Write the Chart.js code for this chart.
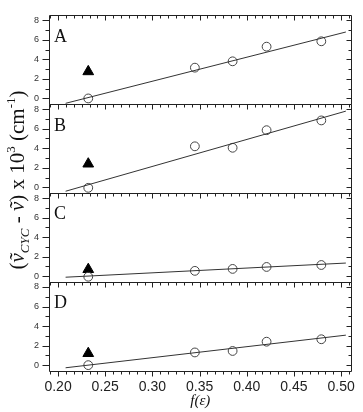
<!DOCTYPE html>
<html>
<head>
<meta charset="utf-8">
<script src="https://cdn.jsdelivr.net/npm/chart.js@4"></script>
<style>
  html, body { margin: 0; padding: 0; background: #fff; }
  #wrap { position: relative; width: 363px; height: 412px; }
</style>
</head>
<body>
<div id="wrap"><canvas id="chart" width="363" height="412"></canvas></div>
<script>
// f(eps) values of the solvents
const fEps = [0.232, 0.345, 0.385, 0.421, 0.479];
// shifts (x 10^3 cm-1), open circles
const shiftA = [0.0, 3.15, 3.8, 5.3, 5.85];
const shiftB = [-0.05, 4.2, 4.05, 5.85, 6.85];
const shiftC = [-0.05, 0.55, 0.75, 0.95, 1.15];
const shiftD = [0.0, 1.3, 1.45, 2.4, 2.65];
// filled triangles
const triX = 0.232;
const triA = 2.75;
const triB = 2.4;
const triC = 0.7;
const triD = 1.2;
// fitted lines (end points)
const fitX = [0.208, 0.505];
const fitA = [-0.5, 6.8];
const fitB = [-0.4, 7.8];
const fitC = [-0.1, 1.35];
const fitD = [-0.27, 3.07];
const panelNames = ['A', 'B', 'C', 'D'];
const yTicks = [0, 2, 4, 6, 8];

const panels = [
  { id: 'yA', shift: shiftA, tri: triA, fit: fitA },
  { id: 'yB', shift: shiftB, tri: triB, fit: fitB },
  { id: 'yC', shift: shiftC, tri: triC, fit: fitC },
  { id: 'yD', shift: shiftD, tri: triD, fit: fitD },
];

const datasets = [];
panels.forEach((p) => {
  datasets.push({
    label: p.id + ' fit',
    data: fitX.map((x, i) => ({ x, y: p.fit[i] })),
    yAxisID: p.id,
    showLine: true,
    borderColor: '#333',
    borderWidth: 1,
    pointRadius: 0,
  });
  datasets.push({
    label: p.id + ' circles',
    data: fEps.map((x, i) => ({ x, y: p.shift[i] })),
    yAxisID: p.id,
    pointStyle: 'circle',
    pointRadius: 4.4,
    borderColor: '#444',
    borderWidth: 1,
    backgroundColor: 'rgba(0,0,0,0)',
  });
  datasets.push({
    label: p.id + ' triangle',
    data: [{ x: triX, y: p.tri }],
    yAxisID: p.id,
    pointStyle: 'triangle',
    pointRadius: 6.2,
    borderColor: '#000',
    borderWidth: 1,
    backgroundColor: '#000',
  });
});

const scales = {
  x: {
    type: 'linear',
    min: 0.1904,
    max: 0.511,
    afterFit(scale) { scale.height = 41; },
    grid: { display: false, drawTicks: false },
    border: { display: false },
    ticks: {
      stepSize: 0.05,
      includeBounds: false,
      padding: 8,
      color: '#222',
      font: { family: 'Liberation Sans', size: 14 },
      callback: (v) => Number(v).toFixed(2),
    },
  },
};
panels.forEach((p, i) => {
  scales[p.id] = {
    type: 'linear',
    position: 'left',
    stack: 'panels',
    stackWeight: 1,
    weight: 4 - i,
    min: -0.6,
    max: 8.5,
    afterFit(scale) { scale.width = 49; },
    afterBuildTicks(scale) { scale.ticks = yTicks.map((v) => ({ value: v })); },
    grid: { display: false, drawTicks: false },
    border: { display: false },
    ticks: {
      autoSkip: false,
      padding: 10,
      color: '#333',
      font: { family: 'Liberation Sans', size: 9 },
    },
  };
});

const framePlugin = {
  id: 'frame',
  afterDraw(chart) {
    const { ctx, chartArea, scales: sc } = chart;
    const xs = sc.x;
    const L = Math.round(chartArea.left) + 0.5;
    const R = Math.round(chartArea.right) - 0.5;
    ctx.save();
    ctx.strokeStyle = '#222';
    ctx.lineWidth = 1;

    // x tick positions (majors from the scale, minors in between)
    const majors = xs.ticks.map((t) => t.value);
    const step = (majors[1] - majors[0]) / 6;
    const xMarks = [];
    for (let k = -6; k < 60; k++) {
      const v = majors[0] + k * step;
      if (v < xs.min || v > xs.max) continue;
      xMarks.push({ px: Math.round(xs.getPixelForValue(v)) + 0.5, major: ((k % 6) + 6) % 6 === 0 });
    }

    panels.forEach((p, idx) => {
      const s = sc[p.id];
      const T = Math.round(s.top) + 0.5;
      const B = Math.round(s.bottom) + 0.5;
      ctx.beginPath();
      ctx.rect(L, T, R - L, B - T);
      // top ticks, inward
      xMarks.forEach((m) => {
        ctx.moveTo(m.px, T);
        ctx.lineTo(m.px, T + (m.major ? 5 : 3));
      });
      // y ticks: left outward, right inward
      for (let v = Math.ceil(s.min); v <= Math.floor(s.max); v++) {
        const py = Math.round(s.getPixelForValue(v)) + 0.5;
        const major = v % 2 === 0;
        ctx.moveTo(L, py);
        ctx.lineTo(L - (major ? 7 : 4), py);
        ctx.moveTo(R, py);
        ctx.lineTo(R - (major ? 5 : 3), py);
      }
      if (idx === panels.length - 1) {
        xMarks.forEach((m) => {
          ctx.moveTo(m.px, B);
          ctx.lineTo(m.px, B + (m.major ? 5 : 3));
        });
      }
      ctx.stroke();

      // panel letter
      ctx.fillStyle = '#111';
      ctx.font = '18px "Liberation Serif"';
      ctx.textBaseline = 'middle';
      ctx.textAlign = 'left';
      ctx.fillText(panelNames[idx], chartArea.left + 5, s.getPixelForValue(6.3));
    });

    // x axis title
    ctx.fillStyle = '#111';
    ctx.font = 'italic 15px "Liberation Serif"';
    ctx.textAlign = 'center';
    ctx.textBaseline = 'middle';
    ctx.fillText('f(\u03B5)', (chartArea.left + chartArea.right) / 2, 401);

    // y axis title, rotated, with sub/superscripts
    const big = '21px "Liberation Serif"';
    const bigI = 'italic 21px "Liberation Serif"';
    const small = '13px "Liberation Serif"';
    const smallI = 'italic 13px "Liberation Serif"';
    const parts = [
      { t: '(', f: big, dy: 0 },
      { t: '\u1E7D', f: bigI, dy: 0 },
      { t: 'CYC', f: smallI, dy: 5 },
      { t: ' - ', f: big, dy: 0 },
      { t: '\u1E7D', f: bigI, dy: 0 },
      { t: ') x 10', f: big, dy: 0 },
      { t: '3', f: small, dy: -9 },
      { t: ' (cm', f: big, dy: 0 },
      { t: '-1', f: small, dy: -9 },
      { t: ')', f: big, dy: 0 },
    ];
    let total = 0;
    parts.forEach((pt) => { ctx.font = pt.f; pt.w = ctx.measureText(pt.t).width; total += pt.w; });
    ctx.translate(17, 180);
    ctx.rotate(-Math.PI / 2);
    ctx.textAlign = 'left';
    ctx.textBaseline = 'alphabetic';
    let cx = -total / 2;
    parts.forEach((pt) => {
      ctx.font = pt.f;
      ctx.fillText(pt.t, cx, 7 + pt.dy);
      cx += pt.w;
    });
    ctx.restore();
  },
};

new Chart(document.getElementById('chart'), {
  type: 'scatter',
  data: { datasets },
  options: {
    responsive: false,
    animation: false,
    devicePixelRatio: 1,
    layout: { padding: { top: 6, right: 4, left: 0, bottom: 0 } },
    plugins: { legend: { display: false }, tooltip: { enabled: false } },
    scales,
  },
  plugins: [framePlugin],
});
</script>
</body>
</html>
